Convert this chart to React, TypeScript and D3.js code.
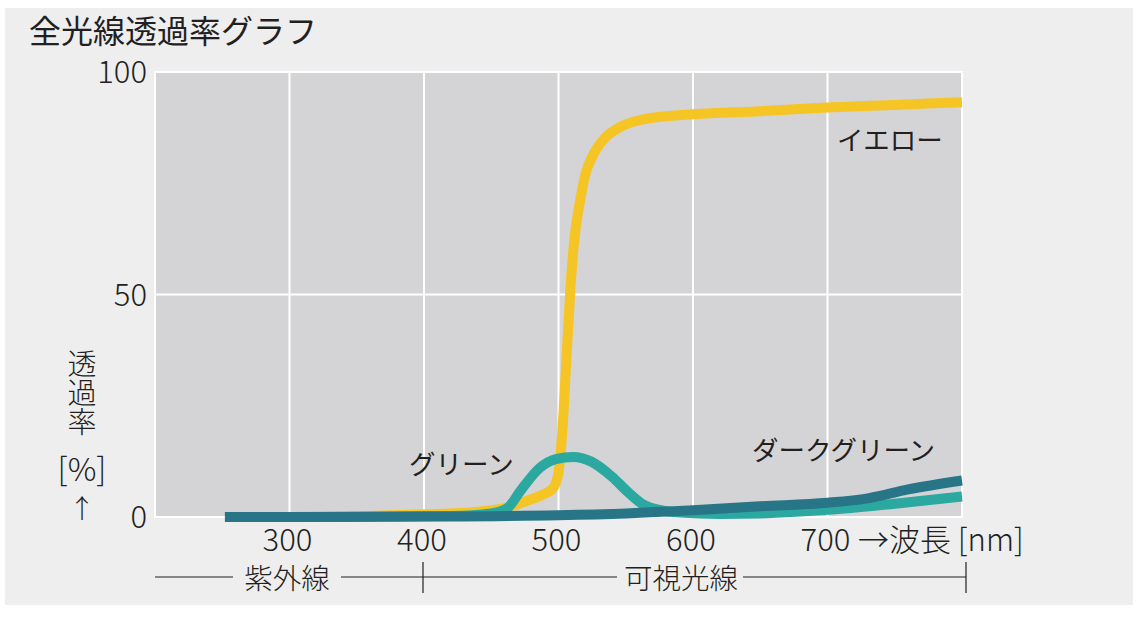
import React from 'react';
import * as d3 from 'd3';

// wavelength [nm], transmittance [%]
const yellowNm = [322, 350, 400, 440, 460, 475, 488, 496, 500, 503, 506, 509, 512, 516, 520, 526, 534, 545, 562, 600, 650, 700, 750, 800];
const yellowPct = [0, 0.2, 0.6, 1.2, 2, 3.5, 5, 6.5, 10, 20, 36, 52, 63, 71, 77, 81.5, 85, 87.5, 89.3, 90.5, 91.2, 92, 92.6, 93.2];

const greenNm = [252, 350, 420, 450, 462, 472, 486, 498, 511, 524, 540, 552, 562, 575, 590, 620, 650, 700, 750, 800];
const greenPct = [0, 0, 0.2, 0.8, 2, 6, 11, 13, 13.5, 12.5, 9, 5.5, 3, 1.6, 1, 0.7, 0.8, 1.6, 3, 4.6];

const darkNm = [252, 300, 400, 500, 550, 600, 650, 700, 730, 760, 800];
const darkPct = [0, 0, 0.1, 0.4, 0.8, 1.5, 2.4, 3.2, 4.2, 6.2, 8.2];

const xTicks = [300, 400, 500, 600, 700];
const yTicks = [0, 50, 100];

const W = 1145;
const H = 619;
const L = 155, R = 962, T = 72, B = 517;
const FONT = '"Noto Sans CJK JP", "Noto Sans", sans-serif';
const INK = '#231f20';

const x = d3.scaleLinear().domain([200, 800]).range([L, R]);
const y = d3.scaleLinear().domain([0, 100]).range([B, T]);

const line = d3
  .line<[number, number]>()
  .x((d) => x(d[0]))
  .y((d) => y(d[1]))
  .curve(d3.curveMonotoneX);

const zip = (a: number[], b: number[]) => a.map((v, i) => [v, b[i]] as [number, number]);

const series = [
  { name: 'yellow', color: '#f5c526', pts: zip(yellowNm, yellowPct) },
  { name: 'green', color: '#2ba89f', pts: zip(greenNm, greenPct) },
  { name: 'dark', color: '#287588', pts: zip(darkNm, darkPct) },
];

export default function App() {
  return (
    <div style={{ position: 'absolute', left: 0, top: 0 }}>
      <svg width={W} height={H} style={{ display: 'block', fontFamily: FONT }}>
        <rect x={0} y={0} width={W} height={H} fill="#ffffff" />
        <rect x={5} y={8} width={1128} height={597} fill="#eeeeee" />

        <text x={29} y={43} fontSize={32} fill={INK}>全光線透過率グラフ</text>

        {/* plot area */}
        <rect x={L} y={T} width={R - L} height={B - T} fill="#d4d4d6" stroke="#ffffff" strokeWidth={2} />
        {xTicks.map((t) => (
          <line key={t} x1={x(t)} x2={x(t)} y1={T} y2={B} stroke="#ffffff" strokeWidth={2} />
        ))}
        <line x1={L} x2={R} y1={y(50)} y2={y(50)} stroke="#ffffff" strokeWidth={2} />

        {series.map((s) => (
          <path key={s.name} d={line(s.pts) ?? ''} fill="none" stroke={s.color} strokeWidth={10} strokeLinecap="butt" />
        ))}

        {/* y ticks */}
        {yTicks.map((t) => (
          <text key={t} x={147} y={y(t)} dy="0.36em" textAnchor="end" fontSize={31} fontWeight={300} fill={INK}>
            {t}
          </text>
        ))}

        {/* y label */}
        <g fill={INK} fontWeight={300}>
          <text x={82} y={349} fontSize={29} style={{ writingMode: 'vertical-rl' }}>透過率</text>
          <text x={82} y={481} fontSize={32} textAnchor="middle">[%]</text>
          <text x={82} y={518} fontSize={26} textAnchor="middle">↑</text>
        </g>

        {/* x ticks */}
        {xTicks.map((t) => (
          <text key={t} x={x(t) - 2} y={551} textAnchor="middle" fontSize={31} fontWeight={300} fill={INK}>
            {t}
          </text>
        ))}
        <text x={858} y={551} fontSize={31} fontWeight={300} fill={INK}>
          →波長 [nm]
        </text>

        {/* region bar */}
        <g stroke={INK} strokeWidth={1.2}>
          <line x1={155} x2={233} y1={577} y2={577} />
          <line x1={341} x2={617} y1={577} y2={577} />
          <line x1={743} x2={966} y1={577} y2={577} />
          <line x1={423} x2={423} y1={562} y2={593} />
          <line x1={966} x2={966} y1={562} y2={593} />
        </g>
        <text x={287} y={589} textAnchor="middle" fontSize={28.5} fontWeight={300} fill={INK}>紫外線</text>
        <text x={681} y={589} textAnchor="middle" fontSize={28.5} fontWeight={300} fill={INK}>可視光線</text>

        {/* series labels */}
        <g fontSize={26.5} fill={INK}>
          <text x={837} y={150}>イエロー</text>
          <text x={409} y={474}>グリーン</text>
          <text x={752} y={460}>ダークグリーン</text>
        </g>
      </svg>
    </div>
  );
}
